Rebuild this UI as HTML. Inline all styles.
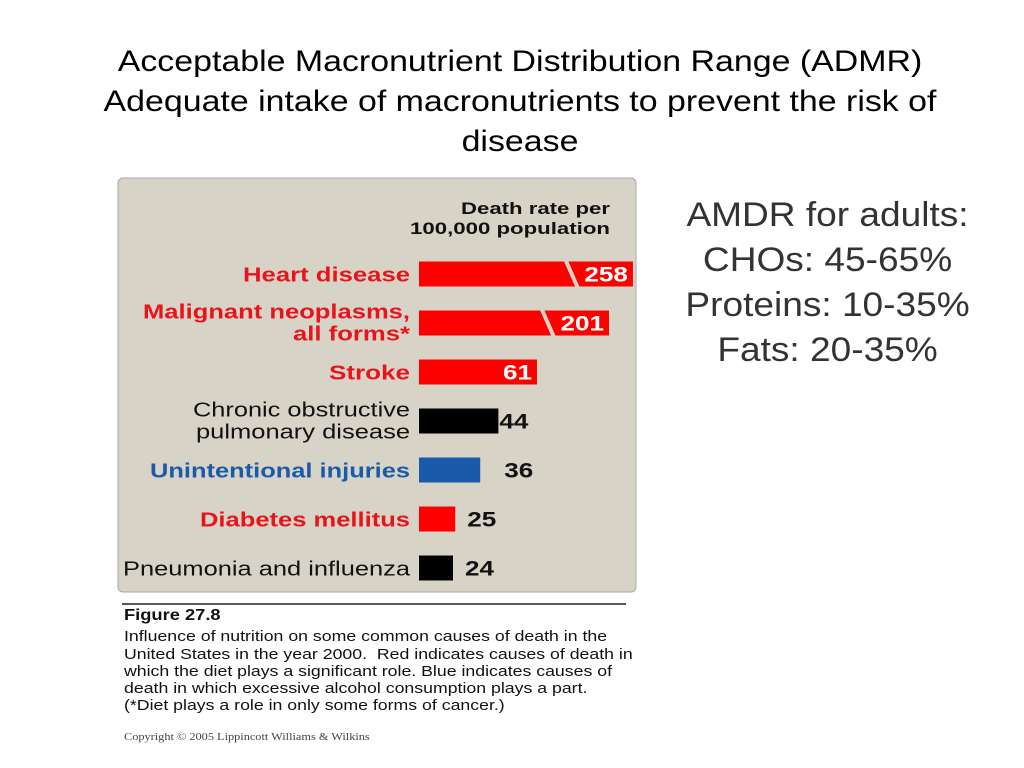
<!DOCTYPE html>
<html><head><meta charset="utf-8"><style>
body{margin:0;width:1024px;height:768px;background:#fff;font-family:"Liberation Sans",sans-serif;position:relative;overflow:hidden}
.t{position:absolute;left:0;width:1040px;text-align:center;font-size:30px;color:#000;line-height:40px;transform:scaleX(1.13);transform-origin:520px 0}
.side{position:absolute;left:660px;width:335px;text-align:center;font-size:34px;color:#333;line-height:45px;top:193px;transform:scaleX(1.09);transform-origin:167px 0}
.cap{position:absolute;left:124px;font-size:15px;line-height:17.3px;color:#111;top:607px;transform:scaleX(1.18);transform-origin:0 0;white-space:nowrap}
</style></head><body>
<div class="t" style="top:42px">Acceptable Macronutrient Distribution Range (ADMR)<br>Adequate intake of macronutrients to prevent the risk of<br>disease</div>
<div class="side">AMDR for adults:<br>CHOs: 45-65%<br>Proteins: 10-35%<br>Fats: 20-35%</div>
<svg width="1024" height="768" style="position:absolute;left:0;top:0">
<rect x="118" y="178" width="518" height="414" rx="5" fill="#d8d3c7" stroke="#aaa"/>
<text x="461" y="214" textLength="149" lengthAdjust="spacingAndGlyphs" font-weight="bold" font-size="17" fill="#111">Death rate per</text>
<text x="410" y="234" textLength="200" lengthAdjust="spacingAndGlyphs" font-weight="bold" font-size="17" fill="#111">100,000 population</text>
<g id="bars"></g>
<line x1="122" y1="604" x2="626" y2="604" stroke="#222" stroke-width="1.5"/>
</svg>
<div class="cap"><b style="font-size:15.5px">Figure 27.8</b><br><span style="position:relative;top:4px">Influence of nutrition on some common causes of death in the<br>United States in the year 2000.&nbsp; Red indicates causes of death in<br>which the diet plays a significant role. Blue indicates causes of<br>death in which excessive alcohol consumption plays a part.<br>(*Diet plays a role in only some forms of cancer.)</span></div>
<div style="position:absolute;left:124px;top:732px;font-family:'Liberation Serif',serif;font-size:10px;color:#444;transform:scaleX(1.23);transform-origin:0 0;white-space:nowrap">Copyright © 2005 Lippincott Williams &amp; Wilkins</div>
<script>
const categories=[["Heart disease"],["Malignant neoplasms,","all forms*"],["Stroke"],["Chronic obstructive","pulmonary disease"],["Unintentional injuries"],["Diabetes mellitus"],["Pneumonia and influenza"]];
const values=[258,201,61,44,36,25,24];
const colors=["#f00","#f00","#f00","#000","#1a5aaa","#f00","#000"];
const labelColors=["#e8141c","#e8141c","#e8141c","#111","#1a5aaa","#e8141c","#111"];
const boldLabels=[1,1,1,0,1,1,0];
// layout only: label line start x (right edge 410)
const labelStarts=[[243],[143,293],[329],[193,196],[150],[200],[123]];
const NS="http://www.w3.org/2000/svg";
const g=document.getElementById("bars");
const x0=419;
function xs(v){ if(v>100) return 190+(v-201)*0.42; return v*2.27-20.5; }
function yc(i){ return 274+i*49; }
function mk(t,a){const e=document.createElementNS(NS,t);for(const k in a)e.setAttribute(k,a[k]);g.appendChild(e);return e;}
values.forEach((v,i)=>{
 const h=25,y=yc(i)-h/2,w=xs(v);
 const r=mk("rect",{x:x0,y:y,width:w,height:h,fill:colors[i]});
 
 
 if(v>100){
  const bx=x0+w-68;
  const l=mk("line",{x1:bx,y1:y-3,x2:bx+14,y2:y+h+4,stroke:"#d8d3c7","stroke-width":"4"});
  
  
 }
 const inside=v>50;
 const s=String(v);
 const tl=s.length*14.5;
 const tx=inside?x0+w-5-tl:(i==3?x0+w+1:x0+w+(i==4?24:12));
 const t=mk("text",{x:tx,y:y+20,textLength:tl,lengthAdjust:"spacingAndGlyphs","font-weight":"bold","font-size":"21",fill:inside?"#fff":"#111"});
 t.textContent=s;
 
 
 const lines=categories[i];
 lines.forEach((str,j)=>{
  const yy=lines.length==1?y+20:y+8+j*22;
  const sx=labelStarts[i][j];
  const lt=mk("text",{x:sx,y:yy,textLength:410-sx,lengthAdjust:"spacingAndGlyphs","font-weight":boldLabels[i]?"bold":"normal","font-size":"20",fill:labelColors[i]});
  lt.textContent=str;
  
  
 });
});
</script>
</body></html>
